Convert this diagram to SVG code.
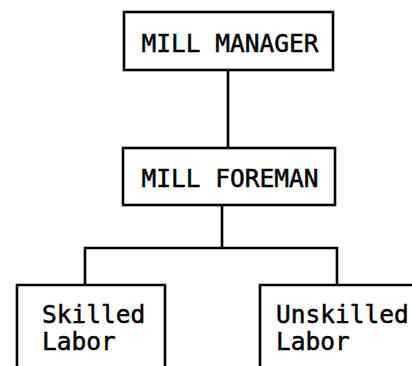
<svg xmlns="http://www.w3.org/2000/svg" width="412" height="366" viewBox="0 0 412 366">
<style>
.box{fill:#fff;stroke:#000;stroke-width:2.6}
.ln{fill:none;stroke:#000;stroke-width:2.6}
.t{font-family:"DejaVu Sans Mono","Liberation Mono",monospace;font-size:24.5px;fill:#000;stroke:#000;stroke-width:0.5}
</style>
<rect width="412" height="366" fill="#fff"/>
<g id="connectors">
<path class="ln" d="M228 70 V148"/>
<path class="ln" d="M222 205 V248"/>
<path class="ln" d="M85 285 V248 H337 V285"/>
</g>
<g id="mill-manager">
<rect class="box" x="124" y="12" width="209" height="58"/>
<text class="t" x="230" y="52" text-anchor="middle">MILL MANAGER</text>
</g>
<g id="mill-foreman">
<rect class="box" x="123" y="148" width="212" height="57"/>
<text class="t" x="230" y="187" text-anchor="middle">MILL FOREMAN</text>
</g>
<g id="skilled-labor">
<path class="ln" d="M17 370 V285 H165 V370"/>
<text class="t" x="42" y="323">Skilled</text>
<text class="t" x="42" y="350">Labor</text>
</g>
<g id="unskilled-labor">
<path class="ln" d="M260 370 V285 H415"/>
<text class="t" x="276" y="323">Unskilled</text>
<text class="t" x="276" y="350">Labor</text>
</g>
</svg>
